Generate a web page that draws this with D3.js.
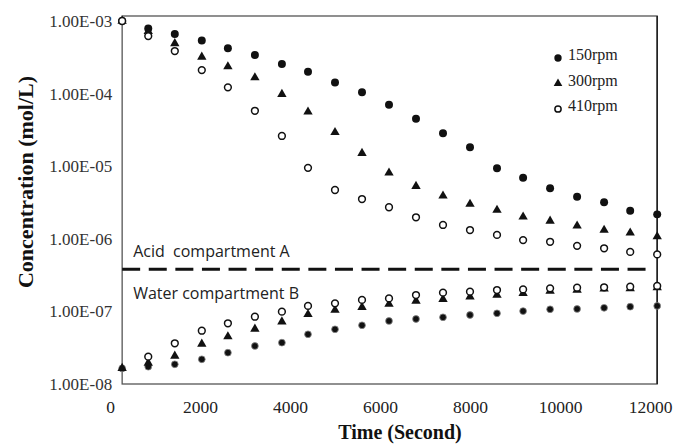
<!DOCTYPE html>
<html>
<head>
<meta charset="utf-8">
<script src="https://cdn.jsdelivr.net/npm/d3@7"></script>
<style>
  html, body { margin: 0; padding: 0; background: #fff; }
  svg { display: block; }
</style>
</head>
<body>
<div id="chart"></div>
<script>
// ── Data ────────────────────────────────────────────────────────────────────
const times = [270, 850, 1440, 2040, 2620, 3220, 3820, 4400, 5000, 5600, 6200,
  6800, 7400, 8000, 8600, 9180, 9780, 10380, 10980, 11560, 12160];

// acid compartment A (falling)
const acid150 = [1.0e-3, 7.9e-4, 6.6e-4, 5.4e-4, 4.2e-4, 3.4e-4, 2.56e-4, 2.0e-4, 1.42e-4, 1.04e-4, 7.0e-5,
  4.5e-5, 2.84e-5, 1.82e-5, 9.4e-6, 6.95e-6, 4.96e-6, 3.8e-6, 3.18e-6, 2.44e-6, 2.17e-6];
const acid300 = [1.0e-3, 7.2e-4, 4.9e-4, 3.2e-4, 2.35e-4, 1.66e-4, 9.8e-5, 5.6e-5, 2.93e-5, 1.51e-5, 8.1e-6,
  5.3e-6, 3.9e-6, 3.0e-6, 2.49e-6, 2.01e-6, 1.76e-6, 1.51e-6, 1.32e-6, 1.21e-6, 1.07e-6];
const acid410 = [1.0e-3, 6.2e-4, 3.86e-4, 2.11e-4, 1.22e-4, 5.8e-5, 2.61e-5, 9.5e-6, 4.7e-6, 3.53e-6, 2.72e-6,
  1.98e-6, 1.55e-6, 1.32e-6, 1.13e-6, 9.6e-7, 9.1e-7, 8.0e-7, 7.4e-7, 6.6e-7, 6.1e-7];

// water compartment B (rising); the 410rpm start point is not visible in the figure
const water150 = [1.64e-8, 1.73e-8, 1.87e-8, 2.19e-8, 2.7e-8, 3.34e-8, 3.71e-8, 4.84e-8, 5.67e-8, 6.44e-8, 7.38e-8,
  7.86e-8, 8.3e-8, 8.92e-8, 9.41e-8, 1.01e-7, 1.07e-7, 1.08e-7, 1.12e-7, 1.16e-7, 1.19e-7];
const water300 = [1.65e-8, 1.95e-8, 2.43e-8, 3.56e-8, 4.49e-8, 5.73e-8, 7.21e-8, 9.12e-8, 1.04e-7, 1.14e-7, 1.26e-7,
  1.39e-7, 1.47e-7, 1.59e-7, 1.68e-7, 1.77e-7, 1.91e-7, 1.97e-7, 2.04e-7, 2.07e-7, 2.13e-7];
const water410 = [null, 2.38e-8, 3.64e-8, 5.42e-8, 6.86e-8, 8.45e-8, 9.91e-8, 1.19e-7, 1.29e-7, 1.44e-7, 1.51e-7,
  1.68e-7, 1.81e-7, 1.87e-7, 1.97e-7, 2.01e-7, 2.08e-7, 2.12e-7, 2.15e-7, 2.19e-7, 2.24e-7];

const legendLabels = ["150rpm", "300rpm", "410rpm"];
const xTickValues = [0, 2000, 4000, 6000, 8000, 10000, 12000];
const yTickValues = [1e-8, 1e-7, 1e-6, 1e-5, 1e-4, 1e-3];
const boundaryLevel = 3.8e-7;
const boundarySpan = [270, 12000];
const zoneLabels = ["Acid  compartment A", "Water compartment B"];

// ── Scales ──────────────────────────────────────────────────────────────────
const W = 675, H = 445;
const x = d3.scaleLinear().domain([0, 12000]).range([110, 650]);
const y = d3.scaleLog().domain([1e-8, 1e-3]).range([384, 21]);

const frame = { left: x(times[0]), right: x(times[times.length - 1]), top: y(1e-3) - 5, bottom: y(1e-8) };

const svg = d3.select("#chart").append("svg").attr("width", W).attr("height", H);

// ── Frame ───────────────────────────────────────────────────────────────────
svg.append("rect")
  .attr("x", frame.left).attr("y", frame.top)
  .attr("width", frame.right - frame.left).attr("height", frame.bottom - frame.top)
  .attr("fill", "none").attr("stroke", "#555").attr("stroke-width", 1.3);
svg.append("line")
  .attr("x1", frame.right).attr("x2", frame.right)
  .attr("y1", frame.top).attr("y2", frame.bottom)
  .attr("stroke", "#222").attr("stroke-width", 1.6);

// ── Axes ────────────────────────────────────────────────────────────────────
const serif = "'Liberation Serif', 'Times New Roman', serif";
const fmtE = (d) => "1.00E-" + String(-Math.round(Math.log10(d))).padStart(2, "0");

const gy = svg.append("g")
  .attr("transform", `translate(${frame.left},0)`)
  .call(d3.axisLeft(y).tickValues(yTickValues).tickFormat(fmtE).tickSize(0).tickPadding(10));
gy.select(".domain").remove();
gy.selectAll("text")
  .attr("font-family", serif)
  .attr("font-size", 17).attr("fill", "#333");

const gx = svg.append("g")
  .attr("transform", `translate(0,${frame.bottom})`)
  .call(d3.axisBottom(x).tickValues(xTickValues).tickFormat(d3.format("d")).tickSize(0).tickPadding(17));
gx.select(".domain").remove();
gx.selectAll("text")
  .attr("font-family", serif)
  .attr("font-size", 17.5).attr("fill", "#222");

svg.append("text")
  .attr("transform", `translate(33,182) rotate(-90)`)
  .attr("text-anchor", "middle")
  .attr("font-family", serif)
  .attr("font-weight", "bold").attr("font-size", 22).attr("fill", "#111")
  .text("Concentration (mol/L)");

svg.append("text")
  .attr("x", 400).attr("y", 439)
  .attr("text-anchor", "middle")
  .attr("font-family", serif)
  .attr("font-weight", "bold").attr("font-size", 20).attr("fill", "#111")
  .text("Time (Second)");

// ── Compartment boundary ───────────────────────────────────────────────────
const yb = y(boundaryLevel);
svg.append("line")
  .attr("x1", x(boundarySpan[0])).attr("x2", x(boundarySpan[1]))
  .attr("y1", yb).attr("y2", yb)
  .attr("stroke", "#111").attr("stroke-width", 3)
  .attr("stroke-dasharray", "18 8.6");

svg.selectAll("text.zone")
  .data(zoneLabels)
  .join("text")
  .attr("class", "zone")
  .attr("x", frame.left + 11)
  .attr("y", (d, i) => (i === 0 ? yb - 12 : yb + 30))
  .attr("font-family", "'Open Sans', 'Noto Sans', sans-serif")
  .attr("font-size", 16).attr("fill", "#222")
  .style("white-space", "pre")
  .text((d) => d);

// ── Markers ─────────────────────────────────────────────────────────────────
const markerStyle = {
  "150rpm": { type: d3.symbolCircle, size: 50, fill: "#111", stroke: "none", sw: 0 },
  "300rpm": { type: d3.symbolTriangle, size: 38, fill: "#111", stroke: "none", sw: 0 },
  "410rpm": { type: d3.symbolCircle, size: 36, fill: "#fff", stroke: "#111", sw: 1.5 },
};
const waterFilled = { type: d3.symbolCircle, size: 36, fill: "#111", stroke: "#888", sw: 0.8 };

const series = [
  { values: water150, style: waterFilled },
  { values: water300, style: markerStyle["300rpm"] },
  { values: water410, style: markerStyle["410rpm"] },
  { values: acid150, style: markerStyle["150rpm"] },
  { values: acid300, style: markerStyle["300rpm"] },
  { values: acid410, style: markerStyle["410rpm"] },
];

for (const s of series) {
  const pts = s.values.map((v, i) => ({ t: times[i], v })).filter((p) => p.v != null);
  svg.append("g")
    .selectAll("path")
    .data(pts)
    .join("path")
    .attr("transform", (d) => `translate(${x(d.t)},${y(d.v)})`)
    .attr("d", d3.symbol(s.style.type, s.style.size)())
    .attr("fill", s.style.fill)
    .attr("stroke", s.style.stroke)
    .attr("stroke-width", s.style.sw);
}

// ── Legend ──────────────────────────────────────────────────────────────────
const legend = svg.append("g").attr("transform", "translate(558,58)");
const item = legend.selectAll("g")
  .data(legendLabels)
  .join("g")
  .attr("transform", (d, i) => `translate(0,${i * 25.5})`);
item.append("path")
  .attr("d", (d) => d3.symbol(markerStyle[d].type, markerStyle[d].size * 0.85)())
  .attr("fill", (d) => markerStyle[d].fill)
  .attr("stroke", (d) => markerStyle[d].stroke)
  .attr("stroke-width", (d) => markerStyle[d].sw);
item.append("text")
  .attr("x", 10).attr("y", 2)
  .attr("font-family", serif)
  .attr("font-size", 16).attr("fill", "#222")
  .text((d) => d);
</script>
</body>
</html>
